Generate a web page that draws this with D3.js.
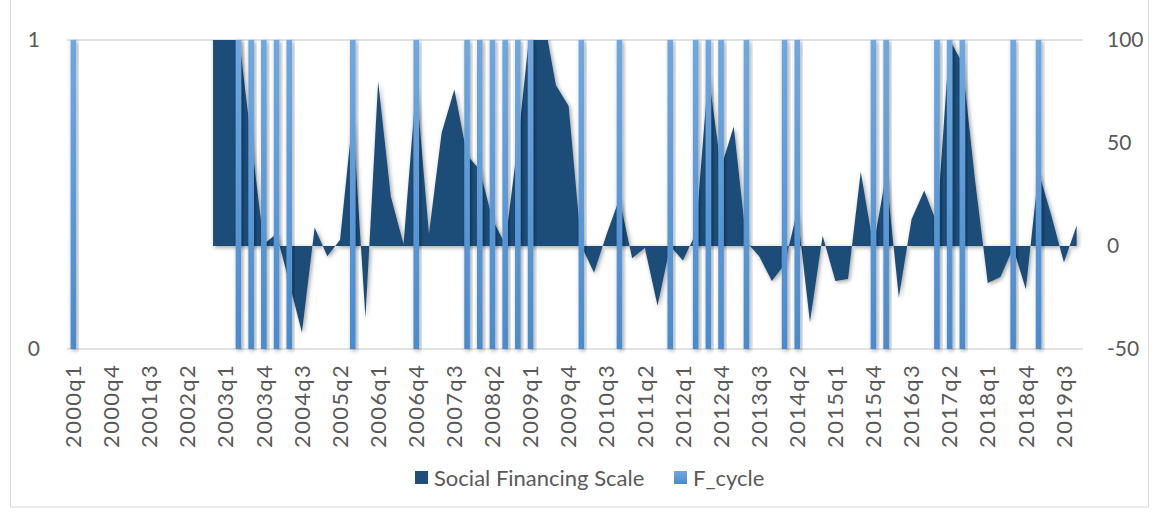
<!DOCTYPE html>
<html>
<head>
<meta charset="utf-8">
<script src="https://cdn.jsdelivr.net/npm/d3@7"></script>
<style>
  html, body { margin: 0; padding: 0; background: #fff; }
  svg { display: block; font-family: Lato, "Noto Sans", sans-serif; }
</style>
</head>
<body>
<div id="chart"></div>
<script>
const WIDTH = 1160, HEIGHT = 512
const PLOT = { LEFT: 67, RIGHT: 1083, TOP: 40, BOTTOM: 349 }

// categories: 2000q1 .. 2019q4
const years = d3.range(2000, 2020)
const quarters = years.flatMap(y => [1, 2, 3, 4].map(q => y + 'q' + q))
const tickLabels = quarters.filter((d, i) => i % 3 === 0)

// Social Financing Scale (right axis), blank before 2002q4
const socialFinancing = [
  null, null, null, null, null, null, null, null, null, null, null,
  125, 118, 103, 52, 1, 6, -18, -42, 9, -5, 3, 63, -35, 80, 24, 1, 78, 6, 55,
  76, 44, 37, 13, 1, 50, 108, 112, 78, 68, 0, -13, 6, 23, -6, -1, -29, 0, -7, 6,
  84, 38, 58, 2, -5, -17, -9, 17, -37, 5, -17, -16, 36, 0, 35, -25, 13, 27, 11, 100,
  89, 32, -18, -15, -1, -21, 36, 15, -8, 10
]

// F_cycle (left axis): quarters flagged with 1
const cycleIdx = [0, 13, 14, 15, 16, 17, 22, 27, 31, 32, 33, 34, 35, 36, 40, 43, 47,
  49, 50, 51, 53, 56, 57, 63, 64, 68, 69, 70, 74, 76]
const fCycle = quarters.map((q, i) => cycleIdx.includes(i) ? 1 : 0)

const leftTicks = [0, 1]
const rightTicks = [-50, 0, 50, 100]

const svg = d3.select('#chart').append('svg')
    .attr('width', WIDTH)
    .attr('height', HEIGHT)

const defs = svg.append('defs')
const shadow = defs.append('filter').attr('id', 'shadow')
    .attr('x', '-50%').attr('y', '-10%').attr('width', '200%').attr('height', '120%')
shadow.append('feDropShadow')
    .attr('dx', 1.5).attr('dy', 1.5).attr('stdDeviation', 2.2)
    .attr('flood-color', '#000').attr('flood-opacity', 0.38)

const grad = defs.append('linearGradient').attr('id', 'barGrad')
    .attr('x1', 0).attr('y1', 0).attr('x2', 0).attr('y2', 1)
grad.append('stop').attr('offset', '0%').attr('stop-color', '#6FA8DF')
grad.append('stop').attr('offset', '100%').attr('stop-color', '#4A8BCD')

defs.append('clipPath').attr('id', 'plotClip')
  .append('rect')
    .attr('x', PLOT.LEFT - 10).attr('y', PLOT.TOP)
    .attr('width', PLOT.RIGHT - PLOT.LEFT + 20)
    .attr('height', PLOT.BOTTOM - PLOT.TOP)

// chart border
svg.append('rect')
    .attr('x', 10.5).attr('y', -2)
    .attr('width', 1138).attr('height', 509)
    .attr('fill', 'none').attr('stroke', '#D9D9D9')

const x = d3.scaleBand().domain(quarters).range([PLOT.LEFT, PLOT.RIGHT]).padding(0)
const yLeft = d3.scaleLinear().domain([0, 1]).range([PLOT.BOTTOM, PLOT.TOP])
const yRight = d3.scaleLinear().domain([-50, 100]).range([PLOT.BOTTOM, PLOT.TOP])
const cx = d => x(d) + x.bandwidth() / 2

// gridlines (primary axis)
svg.append('g')
  .selectAll('line')
  .data(leftTicks)
  .enter().append('line')
    .attr('x1', PLOT.LEFT).attr('x2', PLOT.RIGHT)
    .attr('y1', d => yLeft(d)).attr('y2', d => yLeft(d))
    .attr('stroke', '#D9D9D9').attr('stroke-width', 1.5)

// area
const area = d3.area()
    .defined(d => d.v !== null)
    .x(d => cx(d.q))
    .y0(yRight(0))
    .y1(d => yRight(d.v))

svg.append('g').attr('clip-path', 'url(#plotClip)')
  .append('path')
    .datum(quarters.map((q, i) => ({ q: q, v: socialFinancing[i] })))
    .attr('d', area)
    .attr('fill', '#1F4E79')
    .attr('filter', 'url(#shadow)')

// bars
const barW = 5.6
svg.append('g')
  .selectAll('rect')
  .data(quarters.map((q, i) => ({ q: q, v: fCycle[i] })).filter(d => d.v > 0))
  .enter().append('rect')
    .attr('x', d => cx(d.q) - barW / 2)
    .attr('y', d => yLeft(d.v))
    .attr('width', barW)
    .attr('height', d => yLeft(0) - yLeft(d.v))
    .attr('fill', 'url(#barGrad)')
    .attr('filter', 'url(#shadow)')

// left axis
const leftAxis = svg.append('g')
    .attr('transform', `translate(${PLOT.LEFT}, 0)`)
    .call(d3.axisLeft(yLeft).tickValues(leftTicks).tickFormat(d => String(d)).tickSize(0).tickPadding(27))
leftAxis.select('.domain').remove()
leftAxis.selectAll('text').attr('font-size', 21).attr('fill', '#595959').attr('font-family', 'Lato')

// right axis
const rightAxis = svg.append('g')
    .attr('transform', `translate(${PLOT.RIGHT}, 0)`)
    .call(d3.axisRight(yRight).tickValues(rightTicks).tickFormat(d => String(d)).tickSize(0).tickPadding(24))
rightAxis.select('.domain').remove()
rightAxis.selectAll('text').attr('font-size', 21).attr('fill', '#595959').attr('font-family', 'Lato')

// x labels
const xAxis = svg.append('g')
    .attr('transform', `translate(0, ${PLOT.BOTTOM})`)
    .call(d3.axisBottom(x).tickValues(tickLabels).tickSize(0))
xAxis.select('.domain').remove()
xAxis.selectAll('text')
    .attr('font-size', 22)
    .attr('letter-spacing', 1.3)
    .attr('fill', '#595959')
    .attr('font-family', 'Lato')
    .attr('transform', 'rotate(-90)')
    .attr('text-anchor', 'end')
    .attr('dy', '0.35em')
    .attr('x', -15)
    .attr('y', 0)

// legend
const legend = svg.append('g').attr('font-family', 'Lato').attr('font-size', 22).attr('fill', '#595959')
legend.append('rect').attr('x', 415).attr('y', 471).attr('width', 13).attr('height', 13).attr('fill', '#1F4E79')
legend.append('text').attr('x', 434).attr('y', 478).attr('dy', '0.35em').text('Social Financing Scale')
legend.append('rect').attr('x', 674).attr('y', 471).attr('width', 13).attr('height', 13).attr('fill', 'url(#barGrad)')
legend.append('text').attr('x', 693).attr('y', 478).attr('dy', '0.35em').text('F_cycle')
</script>
</body>
</html>
